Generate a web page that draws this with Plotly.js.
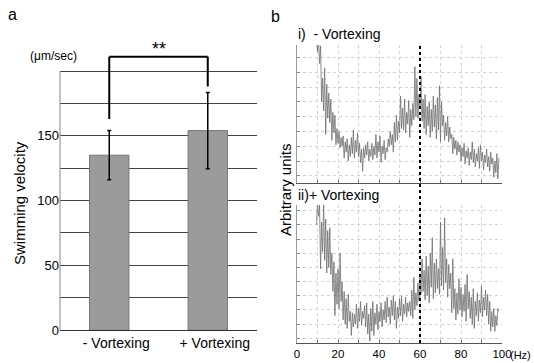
<!DOCTYPE html>
<html>
<head>
<meta charset="utf-8">
<script src="https://cdn.plot.ly/plotly-3.0.1.min.js"></script>
<style>html,body{margin:0;padding:0;background:#fff;}#chart{width:534px;height:363px;}</style>
</head>
<body>
<div id="chart"></div>
<script>
// ---- Panel a: swimming velocity ----
const categories = ['- Vortexing', '+ Vortexing'];
const velocity = [135, 154];
const velocityErr = [19, 29.5];
const velocityTicks = [0, 25, 50, 75, 100, 125, 150, 175, 200];
const velocityTickText = ['0', '', '50', '', '100', '', '150', '', ''];
const bracketTop = 211;
const bracketEnds = [163, 188];
const significance = '**';

// ---- Panel b: spectra (0.5 Hz bins starting at 9.5 Hz) ----
const freqStart = 9.5;
const freqStep = 0.5;
const freqTicks = [0, 10, 20, 30, 40, 50, 60, 70, 80, 90, 100];
const freqTickText = ['0', '', '20', '', '40', '', '60', '', '80', '', '100'];
const markerFreq = 60;

const spectrumMinus = [
 10.2, 9.4, 10.3, 8.6, 9.8, 6.0, 7.6, 5.4, 8.3, 3.8,
 7.2, 4.9, 6.6, 4.6, 6.2, 3.4, 5.3, 3.9, 5.1, 3.1,
 4.2, 3.2, 4.0, 2.9, 3.6, 3.0, 3.7, 2.2, 3.3, 2.6,
 3.5, 2.0, 3.1, 2.3, 3.6, 2.5, 4.1, 2.2, 3.4, 2.6,
 3.9, 2.3, 3.2, 1.9, 2.8, 1.3, 2.9, 2.2, 3.1, 2.4,
 3.3, 2.0, 2.8, 2.3, 3.2, 2.1, 3.0, 2.4, 3.8, 2.2,
 3.3, 2.6, 3.7, 1.9, 3.0, 2.5, 3.4, 2.1, 2.9, 2.6,
 3.5, 3.0, 4.0, 3.1, 3.8, 2.6, 4.6, 3.3, 5.1, 3.4,
 4.7, 3.9, 6.4, 4.2, 5.6, 4.1, 6.2, 3.9, 5.3, 4.5,
 6.1, 3.6, 5.5, 4.4, 5.9, 4.8, 8.4, 5.0, 7.6, 4.9,
 6.5, 5.6, 7.7, 4.7, 6.2, 4.2, 6.5, 3.8, 5.7, 4.4,
 6.0, 3.6, 5.5, 4.0, 6.4, 4.3, 5.8, 3.5, 6.3, 4.1,
 7.1, 3.3, 6.0, 4.4, 5.1, 3.4, 4.6, 3.7, 5.0, 3.3,
 4.3, 3.5, 3.8, 2.5, 3.6, 2.8, 3.4, 2.4, 3.3, 2.6,
 3.1, 2.0, 2.9, 2.3, 3.2, 1.8, 2.7, 2.2, 2.9, 1.7,
 2.6, 2.1, 3.3, 1.9, 2.8, 1.6, 2.5, 2.0, 2.9, 1.5,
 3.1, 2.0, 2.6, 1.4, 2.4, 1.9, 2.8, 1.6, 2.3, 1.3,
 2.6, 1.8, 2.2, 0.9, 2.0, 1.2, 2.5, 0.8, 2.2
];

const spectrumPlus = [
 9.0, 10.5, 9.6, 10.4, 5.9, 9.2, 7.1, 10.5, 6.5, 9.4,
 5.6, 8.6, 6.0, 8.8, 5.5, 7.0, 4.3, 6.4, 2.6, 5.6,
 3.4, 5.9, 3.1, 7.0, 3.6, 5.0, 2.3, 4.3, 2.0, 3.8,
 1.7, 4.1, 2.2, 2.9, 1.2, 2.8, 1.8, 2.7, 2.0, 3.4,
 1.7, 3.1, 2.2, 3.6, 1.9, 2.9, 2.4, 3.3, 1.8, 3.5,
 1.3, 2.7, 0.8, 3.1, 1.5, 3.6, 1.2, 2.8, 2.0, 3.4,
 1.6, 2.9, 2.2, 3.5, 1.8, 3.0, 2.3, 3.6, 2.1, 3.9,
 2.5, 3.2, 2.0, 3.7, 2.6, 4.0, 2.3, 3.6, 1.7, 3.2,
 2.4, 3.8, 2.6, 4.0, 2.2, 3.4, 2.7, 3.9, 2.5, 3.5,
 2.9, 3.6, 2.6, 4.4, 2.4, 5.3, 3.0, 4.2, 3.3, 4.9,
 3.6, 5.4, 4.1, 6.6, 4.3, 5.8, 3.7, 6.8, 4.0, 6.1,
 3.5, 7.0, 4.6, 8.1, 3.8, 6.3, 4.2, 6.6, 4.5, 5.9,
 4.1, 9.2, 4.7, 7.4, 4.4, 9.5, 4.9, 6.6, 3.9, 6.2,
 4.5, 5.6, 2.8, 6.6, 3.1, 4.5, 2.3, 4.2, 2.7, 5.2,
 3.0, 4.6, 2.5, 4.1, 2.9, 4.8, 2.2, 5.5, 3.1, 4.3,
 2.4, 3.9, 2.0, 4.5, 1.7, 3.6, 2.6, 4.2, 2.2, 3.7,
 2.8, 4.7, 2.5, 3.9, 3.0, 4.4, 2.6, 4.1, 2.0, 3.6,
 1.5, 2.9, 1.8, 3.1, 1.5, 2.6, 1.9, 3.1, 2.9
];

const freqMinus = spectrumMinus.map((_, i) => freqStart + i * freqStep);
const freqPlus = spectrumPlus.map((_, i) => freqStart + i * freqStep);

const W = 534, H = 363;
const px = v => v / W;
const py = v => 1 - v / H;

const FONT = 'Liberation Sans, Arial, sans-serif';

const traces = [
  {
    type: 'bar', x: categories, y: velocity, xaxis: 'x', yaxis: 'y',
    width: 0.4,
    marker: {color: '#9b9b9b', line: {color: '#777', width: 1}},
    error_y: {type: 'data', array: velocityErr, visible: true, color: '#000', thickness: 1.5, width: 2},
    hoverinfo: 'none'
  },
  {
    type: 'scatter', mode: 'lines', x: freqMinus, y: spectrumMinus, xaxis: 'x2', yaxis: 'y2',
    line: {color: '#707070', width: 0.8}, hoverinfo: 'none'
  },
  {
    type: 'scatter', mode: 'lines', x: freqPlus, y: spectrumPlus, xaxis: 'x3', yaxis: 'y3',
    line: {color: '#707070', width: 0.8}, hoverinfo: 'none'
  }
];

const specX = {
  range: [0, 100], tickmode: 'array', tickvals: freqTicks,
  showgrid: true, gridcolor: '#d2d2d2', griddash: 'dot', gridwidth: 1,
  ticks: 'inside', ticklen: 3, tickcolor: '#777',
  showline: true, linecolor: '#555', linewidth: 1, zeroline: false,
  fixedrange: true
};
const specY = {
  dtick: 1, tick0: 0,
  showgrid: true, gridcolor: '#d2d2d2', griddash: 'dot', gridwidth: 1,
  ticks: 'inside', ticklen: 3, tickcolor: '#888',
  showline: true, linecolor: '#999', linewidth: 1, zeroline: false,
  showticklabels: false, fixedrange: true
};

const layout = {
  width: W, height: H,
  margin: {l: 0, r: 0, t: 0, b: 0},
  paper_bgcolor: '#fff', plot_bgcolor: 'rgba(0,0,0,0)',
  showlegend: false,
  font: {family: FONT, color: '#000', size: 13},
  xaxis: {
    domain: [px(60), px(257)], anchor: 'y', type: 'category', range: [-0.5, 1.5],
    showline: true, linecolor: '#333', linewidth: 1, ticks: '', showgrid: false,
    tickfont: {size: 14, family: FONT}, ticklabelshift: 7, fixedrange: true
  },
  yaxis: {
    domain: [py(330), py(51.6)], anchor: 'x', range: [0, 215],
    tickmode: 'array', tickvals: velocityTicks, ticktext: velocityTickText,
    showgrid: true, gridcolor: '#444', gridwidth: 1, zeroline: false, showline: false,
    ticks: '', tickfont: {size: 13, family: FONT}, fixedrange: true
  },
  xaxis2: Object.assign({}, specX, {domain: [px(297), px(502)], anchor: 'y2', showticklabels: false}),
  yaxis2: Object.assign({}, specY, {domain: [py(183.3), py(45)], anchor: 'x2', range: [0.49, 9.86]}),
  xaxis3: Object.assign({}, specX, {
    domain: [px(297), px(502)], anchor: 'y3', showticklabels: true, ticktext: freqTickText,
    tickfont: {size: 11.5, family: FONT}
  }),
  yaxis3: Object.assign({}, specY, {domain: [py(342.7), py(205)], anchor: 'x3', range: [0.69, 10.4]}),
  shapes: [
    {type: 'line', xref: 'x domain', x0: 0, x1: 0, yref: 'y', y0: 0, y1: velocityTicks[velocityTicks.length - 1],
     line: {color: '#888', width: 1}},
    {type: 'line', xref: 'x', x0: 0, x1: 0, yref: 'y', y0: bracketEnds[0], y1: bracketTop, line: {color: '#000', width: 2}},
    {type: 'line', xref: 'x', x0: 1, x1: 1, yref: 'y', y0: bracketEnds[1], y1: bracketTop, line: {color: '#000', width: 2}},
    {type: 'line', xref: 'x', x0: 0, x1: 1, yref: 'y', y0: bracketTop, y1: bracketTop, line: {color: '#000', width: 2}},
    {type: 'line', xref: 'x2', x0: markerFreq, x1: markerFreq, yref: 'paper', y0: py(343), y1: py(43),
     line: {color: '#000', width: 2, dash: 'dot'}}
  ],
  annotations: [
    {text: 'a', xref: 'paper', yref: 'paper', x: px(12), y: py(15), xanchor: 'center', yanchor: 'middle', showarrow: false, font: {size: 16}},
    {text: 'b', xref: 'paper', yref: 'paper', x: px(275), y: py(16), xanchor: 'center', yanchor: 'middle', showarrow: false, font: {size: 16}},
    {text: '(μm/sec)', xref: 'paper', yref: 'paper', x: px(28), y: py(56), xanchor: 'left', yanchor: 'middle', showarrow: false, font: {size: 12}},
    {text: significance, xref: 'x', yref: 'y', x: 0.5, y: bracketTop, xanchor: 'center', yanchor: 'bottom', yshift: -4, showarrow: false, font: {size: 18}},
    {text: 'Swimming velocity', xref: 'paper', yref: 'paper', x: px(19), y: py(203), xanchor: 'center', yanchor: 'middle', textangle: -90, showarrow: false, font: {size: 15}},
    {text: 'i)  - Vortexing', xref: 'paper', yref: 'paper', x: px(296), y: py(34), xanchor: 'left', yanchor: 'middle', showarrow: false, font: {size: 14}},
    {text: 'ii)+ Vortexing', xref: 'paper', yref: 'paper', x: px(296), y: py(195), xanchor: 'left', yanchor: 'middle', showarrow: false, font: {size: 14}},
    {text: 'Arbitrary units', xref: 'paper', yref: 'paper', x: px(286), y: py(190), xanchor: 'center', yanchor: 'middle', textangle: -90, showarrow: false, font: {size: 15}},
    {text: '(Hz)', xref: 'paper', yref: 'paper', x: px(533), y: py(355), xanchor: 'right', yanchor: 'middle', showarrow: false, font: {size: 11}}
  ]
};

Plotly.newPlot('chart', traces, layout, {displayModeBar: false, staticPlot: true});
</script>
</body>
</html>
